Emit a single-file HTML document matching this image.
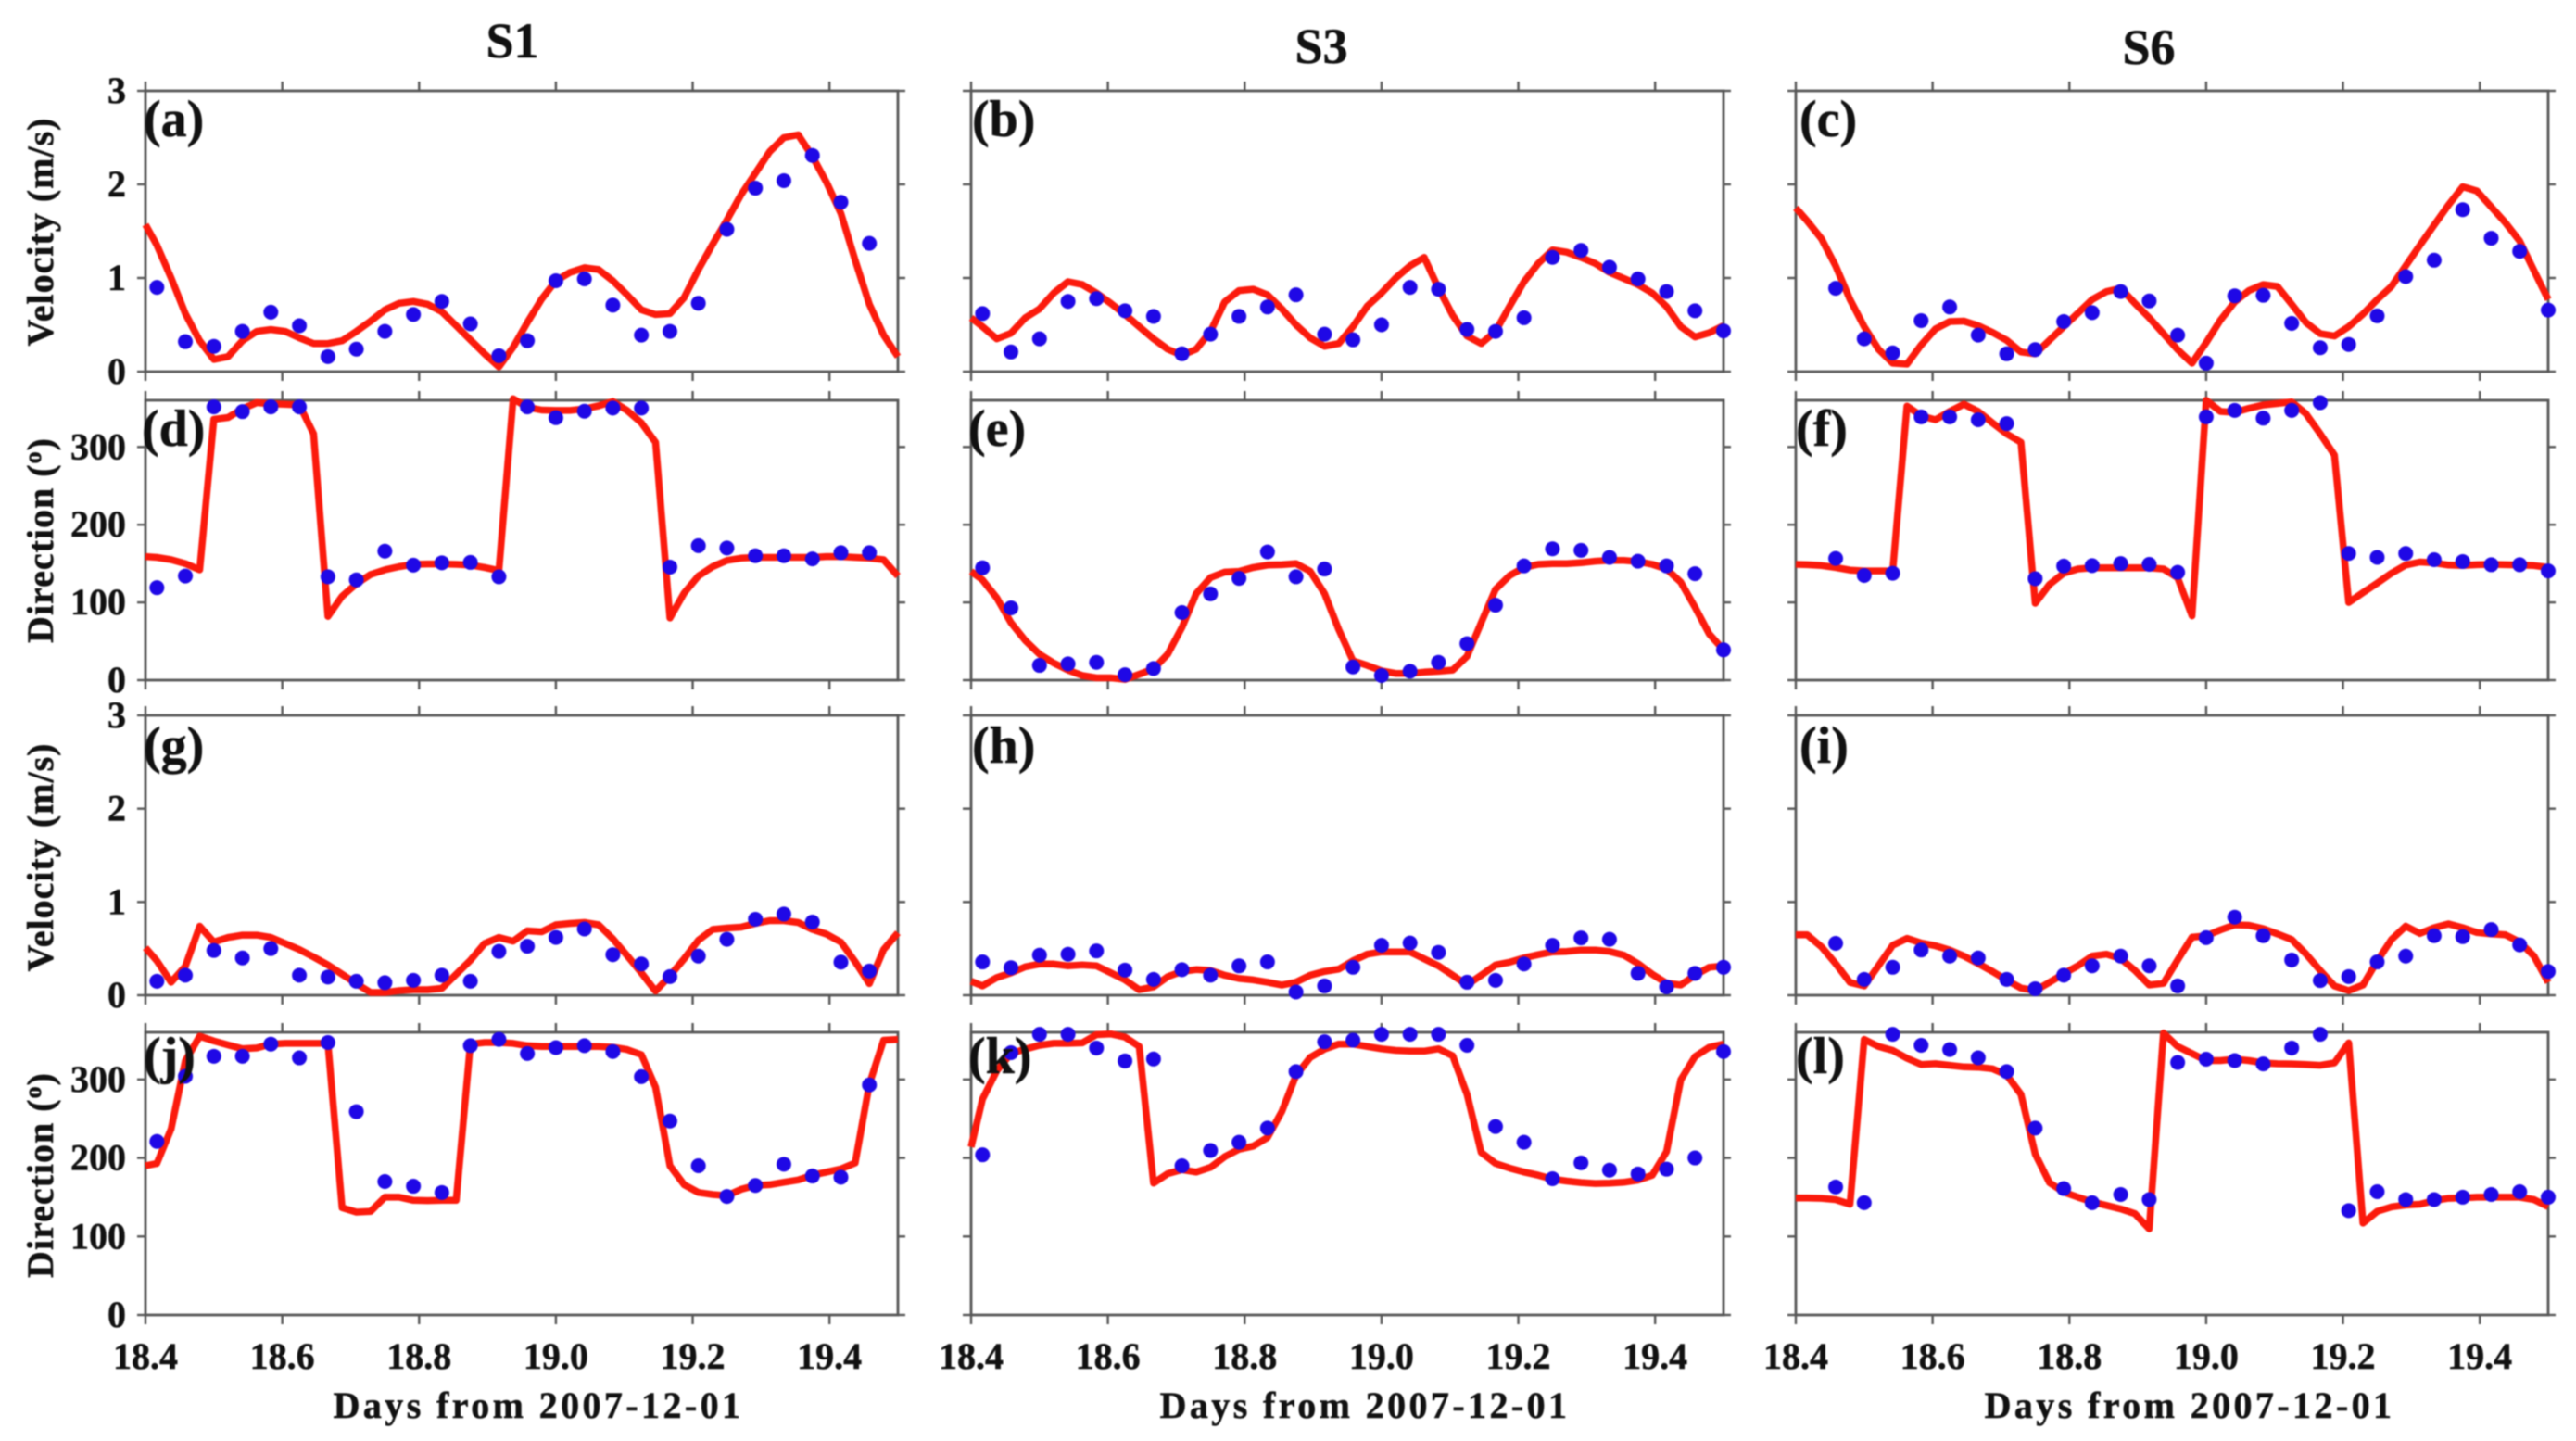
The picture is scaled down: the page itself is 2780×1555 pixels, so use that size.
<!DOCTYPE html>
<html lang="en">
<head>
<meta charset="utf-8">
<title>Velocity and direction at S1, S3 and S6</title>
<style>
html,body{margin:0;padding:0;background:#fff;width:2780px;height:1555px;overflow:hidden}
svg{display:block;font-family:"Liberation Serif",serif;font-weight:bold;fill:#111;filter:blur(0.7px)}
text{stroke:#111;stroke-width:0.5px}
</style>
</head>
<body>
<svg id="chart" xmlns="http://www.w3.org/2000/svg" width="2780" height="1555" viewBox="0 0 2780 1555">
<rect width="2780" height="1555" fill="#fff"/>
<text x="553" y="62" font-size="54" text-anchor="middle">S1</text>
<text x="1426" y="68" font-size="54" text-anchor="middle">S3</text>
<text x="2319" y="69" font-size="54" text-anchor="middle">S6</text>
<text transform="translate(57,250) rotate(-90)" font-size="40" letter-spacing="1" text-anchor="middle">Velocity (m/s)</text>
<text transform="translate(57,583) rotate(-90)" font-size="40" letter-spacing="1" text-anchor="middle">Direction (<tspan font-size="26" dy="-13">o</tspan><tspan dy="13">)</tspan></text>
<text transform="translate(57,925) rotate(-90)" font-size="40" letter-spacing="1" text-anchor="middle">Velocity (m/s)</text>
<text transform="translate(57,1268) rotate(-90)" font-size="40" letter-spacing="1" text-anchor="middle">Direction (<tspan font-size="26" dy="-13">o</tspan><tspan dy="13">)</tspan></text>
<text x="581" y="1530" font-size="40" letter-spacing="3.4" text-anchor="middle">Days from 2007-12-01</text>
<text x="1473" y="1530" font-size="40" letter-spacing="3.4" text-anchor="middle">Days from 2007-12-01</text>
<text x="2363" y="1530" font-size="40" letter-spacing="3.4" text-anchor="middle">Days from 2007-12-01</text>
<g id="plots"></g>
<g font-size="56">
<text x="155" y="147">(a)</text>
<text x="1049" y="147">(b)</text>
<text x="1942" y="147">(c)</text>
<text x="153" y="481">(d)</text>
<text x="1045" y="481">(e)</text>
<text x="1938" y="481">(f)</text>
<text x="155" y="823">(g)</text>
<text x="1049" y="823">(h)</text>
<text x="1942" y="823">(i)</text>
<text x="155" y="1158">(j)</text>
<text x="1045" y="1158">(k)</text>
<text x="1938" y="1158">(l)</text>
</g>
</svg>
<script>
const xTickValues = [18.4, 18.6, 18.8, 19.0, 19.2, 19.4];
const xTickLabels = ["18.4", "18.6", "18.8", "19.0", "19.2", "19.4"];
const velocityTicks = [0, 1, 2, 3];
const directionTicks = [0, 100, 200, 300];

const lineDays = [18.4,18.4167,18.4375,18.4583,18.4792,18.5,18.5208,18.5417,18.5625,18.5833,18.6042,18.625,18.6458,18.6667,18.6875,18.7083,18.7292,18.75,18.7708,18.7917,18.8125,18.8333,18.8542,18.875,18.8958,18.9167,18.9375,18.9583,18.9792,19.0,19.0208,19.0417,19.0625,19.0833,19.1042,19.125,19.1458,19.1667,19.1875,19.2083,19.2292,19.25,19.2708,19.2917,19.3125,19.3333,19.3542,19.375,19.3958,19.4167,19.4375,19.4583,19.4792,19.5];
const dotDays = [18.4167,18.4583,18.5,18.5417,18.5833,18.625,18.6667,18.7083,18.75,18.7917,18.8333,18.875,18.9167,18.9583,19.0,19.0417,19.0833,19.125,19.1667,19.2083,19.25,19.2917,19.3333,19.375,19.4167,19.4583,19.5];

const lineA = [1.57,1.35,1.0,.62,.33,.13,.16,.33,.43,.45,.43,.36,.30,.30,.33,.43,.54,.66,.73,.75,.72,.64,.49,.34,.19,.05,.26,.525,.775,.97,1.06,1.11,1.09,.97,.82,.66,.61,.62,.79,1.09,1.36,1.62,1.89,2.12,2.35,2.50,2.53,2.30,2.02,1.69,1.19,.72,.39,.16];
const dotsA = [.90,.32,.27,.43,.635,.49,.16,.24,.43,.61,.75,.51,.17,.33,.97,.99,.71,.39,.43,.73,1.52,1.96,2.04,2.31,1.81,1.37,null];

const lineB = [.575,.48,.35,.41,.575,.67,.84,.96,.93,.84,.73,.61,.48,.35,.24,.175,.24,.43,.745,.865,.88,.82,.67,.50,.36,.27,.30,.48,.70,.84,1.0,1.13,1.22,.89,.60,.38,.30,.43,.70,.96,1.155,1.30,1.275,1.22,1.155,1.06,.995,.93,.84,.695,.48,.37,.415,.49];
const dotsB = [.62,.21,.35,.75,.78,.65,.59,.19,.40,.59,.69,.82,.40,.34,.50,.90,.88,.45,.43,.575,1.22,1.295,1.115,.99,.855,.65,.435];

const lineC = [1.75,1.61,1.42,1.13,.77,.48,.24,.09,.08,.285,.455,.535,.54,.49,.42,.335,.21,.19,.335,.48,.625,.77,.855,.89,.73,.575,.405,.235,.09,.31,.55,.745,.865,.93,.91,.72,.525,.405,.38,.48,.615,.77,.91,1.13,1.35,1.565,1.78,1.975,1.93,1.76,1.59,1.395,1.08,.77];
const dotsC = [null,.89,.35,.20,.545,.69,.39,.19,.235,.535,.63,.855,.755,.39,.09,.81,.815,.515,.255,.29,.595,1.015,1.19,1.73,1.425,1.285,.657];

const lineD = [159,158,155,150,142,335.6,338,349,357,355.5,355,354,317,82,108,124,136,142,146,149,149.5,149.5,149,148,145,141,362,351,347.5,347,347,349,353,358.6,347,331,306,80,112,134,146,154,157,158,158,158,158,158,159,159,158,157,155,134];
const dotsD = [119,134,351.5,345.5,351.5,351.5,133,129,166,148,151,151.5,133,351.5,337.6,346,350,350,145.5,173,170,160,160,156,164,164,null];

const lineE = [140,129,106,74,51,33.5,22,13,6,3,3,1,7.5,14.5,33.5,68,111.5,132,139,140,145,148,148.5,150,140,111.5,65,25,19,12,8.7,8.7,10.4,11.5,13,30.6,74,117,134.7,145,149,150,150,151,153,154,154,152.6,149,143,126,94,59.5,39];
const dotsE = [144.5,93,19,21,23,7,15,87,111,131,165,133,143,17,6,11.5,23,47,96.5,147,169,167,158,153,147,137,39];

const lineF = [149,148.5,147.4,145,141.6,140.5,140.5,140.5,352.6,340,335,345.7,355,345.7,331,316.8,306,99,123,137.6,143,144.5,144.5,144.5,144.5,144.5,143,131.8,82.7,360,345.7,344.5,349.7,354,356,358,342.8,316.8,289.6,100,112.7,124.9,137.6,148,152,150.9,148,147.4,148.5,149,148.5,148,147.4,145];
const dotsF = [null,156.6,134.7,137.6,338.7,338.7,335,330,130.6,146.8,147.4,150,149,138.7,338.7,347,337,347,357,163,158,163,155,152.6,148.5,148.5,140.5];

const lineG = [.51,.37,.14,.31,.74,.57,.62,.645,.645,.62,.555,.49,.41,.325,.225,.125,.03,.03,.05,.06,.06,.075,.225,.375,.555,.62,.58,.69,.68,.755,.77,.78,.755,.605,.425,.24,.045,.21,.39,.59,.705,.72,.73,.77,.80,.80,.78,.705,.655,.57,.36,.125,.49,.67];
const dotsG = [.15,.215,.48,.40,.50,.215,.195,.15,.135,.16,.215,.15,.47,.525,.62,.71,.435,.335,.20,.42,.60,.815,.87,.785,.355,.26,null];

const lineH = [.15,.10,.19,.24,.305,.335,.335,.315,.325,.315,.24,.165,.06,.09,.20,.255,.275,.265,.215,.18,.165,.14,.11,.14,.215,.255,.28,.37,.44,.465,.465,.465,.39,.315,.215,.11,.215,.325,.355,.40,.435,.465,.47,.485,.485,.47,.43,.34,.225,.13,.11,.215,.30,.315];
const dotsH = [.357,.295,.43,.44,.475,.27,.17,.275,.215,.315,.357,.035,.10,.30,.535,.56,.46,.14,.16,.335,.535,.615,.60,.235,.09,.235,.30];

const lineI = [.648,.648,.52,.34,.138,.10,.316,.535,.61,.56,.53,.485,.42,.34,.255,.163,.077,.05,.138,.23,.316,.42,.44,.393,.265,.11,.128,.378,.622,.638,.70,.755,.75,.714,.658,.597,.444,.265,.10,.05,.11,.367,.597,.74,.663,.724,.765,.724,.673,.658,.648,.571,.42,.138];
const dotsI = [null,.556,.17,.30,.485,.42,.40,.17,.07,.215,.316,.42,.316,.10,.617,.837,.638,.378,.158,.20,.357,.42,.638,.628,.704,.54,.255];

const lineJ = [190,193,237,323.6,355,349,344,339,340,345,346,346,346,346,136.6,131,132,150,150,146,145.7,146,146,345,347,347,346,343,342,342,342,342,342,341,338,331.5,290,190,166,156,153.5,152,160,165,166,169,172,178,182,186,193.7,294,350,351];
const dotsJ = [221,304,329.5,329.5,345,327.5,347,259,170,164,156,343,351,333,340.5,343,335.5,303.5,247,190,151,165,192,177,175.5,293,null];

const lineK = [214,275,311,333,338.6,343.5,346,346,346.5,357,358,354,342,168,180,185,182,188,201.6,211,215,226,259,305,328,338.6,345,345,342,339,337,336,336,339,330,281,207,193,187,182,178,173,170.5,168.7,167.5,168,169,171.7,178,208,299.6,329,341,345];
const dotsK = [204,334,357.5,357.5,340,323.5,326,190,209.5,220,238,310,348,350,357.5,357.5,357.5,343.5,240,220,173.5,193.7,184.5,179.6,185.7,200,335.5];

const lineL = [149,149,148.6,147,141,351,342,337,327,319,320,318,316,315.5,313.6,305.7,281,205,168.7,156.5,150,144,139.5,135,129,109.6,359,342,333,324,324,325.8,324,321,320,319.7,319,318,321,346.5,117,132,137.6,140,141,145.6,148.6,149,150,150,150,150,147,138];
const dotsL = [null,163,143,357.5,343.5,338,327.6,310,238,161,143,153.5,147,321.6,325.8,324,319.7,340,357.5,133,157,147,147,150,153.5,157,150];

const velocityDomain = [0, 3];
const directionDomain = [0, 360];

const SVG_NS = "http://www.w3.org/2000/svg";
const AXIS_COLOR = "#565656";
const columnBoxes = [{left: 157, right: 969, key: "s1"}, {left: 1048, right: 1860, key: "s3"}, {left: 1938, right: 2750, key: "s6"}];
const rowBoxes = [
  {top: 98, bottom: 401, domain: velocityDomain, ticks: velocityTicks, name: "velocity-upper"},
  {top: 432, bottom: 734, domain: directionDomain, ticks: directionTicks, name: "direction-upper"},
  {top: 772, bottom: 1074, domain: velocityDomain, ticks: velocityTicks, name: "velocity-lower"},
  {top: 1114, bottom: 1419, domain: directionDomain, ticks: directionTicks, name: "direction-lower"}
];
const panelSeries = [
  [lineA, dotsA], [lineB, dotsB], [lineC, dotsC],
  [lineD, dotsD], [lineE, dotsE], [lineF, dotsF],
  [lineG, dotsG], [lineH, dotsH], [lineI, dotsI],
  [lineJ, dotsJ], [lineK, dotsK], [lineL, dotsL]
];
const panelLetters = "abcdefghijkl";

function create(tag, attrs, parent) {
  const node = document.createElementNS(SVG_NS, tag);
  Object.keys(attrs).forEach(function (k) { node.setAttribute(k, attrs[k]); });
  parent.appendChild(node);
  return node;
}

function drawPanel(group, col, row, line, dots, letter, colIndex, rowIndex) {
  const xScale = function (d) { return col.left + (d - 18.4) / (19.5 - 18.4) * (col.right - col.left); };
  const yScale = function (v) { return row.bottom - (v - row.domain[0]) / (row.domain[1] - row.domain[0]) * (row.bottom - row.top); };

  const frame = create("rect", {x: col.left, y: row.top, width: col.right - col.left, height: row.bottom - row.top, fill: "none", stroke: AXIS_COLOR, "stroke-width": 2.8}, group);
  
  

  xTickValues.forEach(function (t, i) {
    const x = xScale(t);
    const topTick = create("line", {x1: x, x2: x, y1: row.top, y2: row.top - 10, stroke: AXIS_COLOR, "stroke-width": 2.4}, group);
    
    
    const bottomTick = create("line", {x1: x, x2: x, y1: row.bottom, y2: row.bottom + 10, stroke: AXIS_COLOR, "stroke-width": 2.4}, group);
    
    
    if (rowIndex === 3) {
      const label = create("text", {x: x, y: 1477, "font-size": 40, "text-anchor": "middle"}, group);
      label.textContent = xTickLabels[i];
      
      
    }
  });

  row.ticks.forEach(function (t) {
    const y = yScale(t);
    const leftTick = create("line", {x1: col.left - 9, x2: col.left, y1: y, y2: y, stroke: AXIS_COLOR, "stroke-width": 2.4}, group);
    
    
    const rightTick = create("line", {x1: col.right, x2: col.right + 8, y1: y, y2: y, stroke: AXIS_COLOR, "stroke-width": 2.4}, group);
    
    
    if (colIndex === 0) {
      const label = create("text", {x: 136, y: y + 13, "font-size": 40, "text-anchor": "end"}, group);
      label.textContent = String(t);
      
      
    }
  });

  const pts = line.map(function (v, i) { return xScale(lineDays[i]).toFixed(1) + "," + yScale(v).toFixed(1); }).join(" ");
  const path = create("polyline", {points: pts, fill: "none", stroke: "#fb1a0c", "stroke-width": 7.5, "stroke-linejoin": "round", "stroke-linecap": "butt"}, group);
  
  

  dots.forEach(function (v, i) {
    if (v === null) return;
    const dot = create("ellipse", {cx: xScale(dotDays[i]), cy: yScale(v), rx: 8, ry: 8, fill: "#1f08e6"}, group);
    
    
  });
}

const plots = document.getElementById("plots");
rowBoxes.forEach(function (row, r) {
  columnBoxes.forEach(function (col, c) {
    const n = r * 3 + c;
    const letter = panelLetters[n];
    const group = create("g", {}, plots);
    
    
    drawPanel(group, col, row, panelSeries[n][0], panelSeries[n][1], letter, c, r);
  });
});
</script>
</body>
</html>
